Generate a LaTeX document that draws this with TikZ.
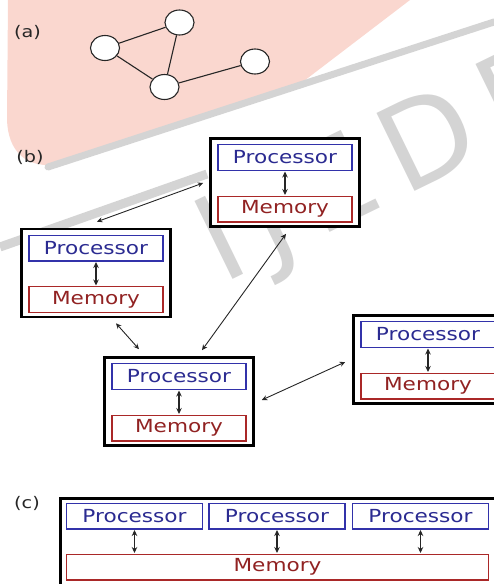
\documentclass[tikz,border=0pt]{standalone}
\usepackage{fontspec}
\setmainfont{DejaVu Sans}
\newfontfamily\dvs[FakeStretch=1.2]{DejaVu Sans}
\newfontfamily\wmfont[LetterSpace=16]{DejaVu Sans}
\usetikzlibrary{arrows.meta,shapes.geometric,calc}
\definecolor{procblue}{RGB}{50,50,170}
\definecolor{memred}{RGB}{170,40,40}
\definecolor{wmpink}{RGB}{250,215,207}
\definecolor{wmgray}{RGB}{212,212,212}
\tikzset{
  outerbox/.style={draw=black,line width=2.6pt,fill=white,minimum width=149pt,minimum height=88pt,inner sep=0pt},
  procbox/.style={draw=procblue,line width=1.2pt,fill=white,text=procblue!85!black,minimum width=134pt,minimum height=25.8pt,inner sep=0pt,font=\dvs\fontsize{18}{18}\selectfont},
  membox/.style={draw=memred,line width=1.2pt,fill=white,text=memred!85!black,minimum width=134pt,minimum height=25.8pt,inner sep=0pt,font=\dvs\fontsize{18}{18}\selectfont},
  dblarrow/.style={{Stealth[length=5.5pt,width=5pt]}-{Stealth[length=5.5pt,width=5pt]},line width=0.9pt,black!85},
  innerarrow/.style={{Stealth[length=6pt,width=5.5pt]}-{Stealth[length=6pt,width=5.5pt]},line width=1.2pt,black!85,shorten <=0.5pt,shorten >=0.5pt},
  vtx/.style={ellipse,draw=black!85,line width=1.1pt,fill=white,minimum width=29pt,minimum height=25pt,inner sep=0pt},
  gedge/.style={line width=1.1pt,black!85},
  lbl/.style={text=black!85,inner sep=0pt,font=\dvs\fontsize{16}{16}\selectfont},
}
\newcommand\pmunit[3]{%
  \node[outerbox] (#1) at (#2,#3) {};
  \node[procbox] (#1p) at ($(#1)+(0,-25)$) {Processor};
  \node[membox] (#1m) at ($(#1)+(0,26.5)$) {Memory};
  \draw[innerarrow] (#1p) -- (#1m);
}
\begin{document}
\begin{tikzpicture}[x=1pt,y=-1pt]
\useasboundingbox (0,0) rectangle (494,584);
\clip (0,0) rectangle (494,584);
% watermark
\fill[wmpink] (8,0) -- (410,0) -- (300,84) -- (60,164) .. controls (25,170) and (8,150) .. (7,120) -- cycle;
\draw[wmgray,line width=7pt,line cap=round] (48,167) -- (494,22);
\draw[wmgray,line width=9pt] (0,247) -- (207,174);
\node[text=wmgray,anchor=base west,rotate=26,inner sep=0pt,font=\wmfont\fontsize{119}{119}\selectfont] (wm) at (222,285) {IJEDR};
% (a)
\node[lbl] (la) at (27.5,32) {(a)};
\node[vtx] (v1) at (105,48) {};
\node[vtx] (v2) at (179.5,22.5) {};
\node[vtx] (v3) at (164.5,87) {};
\node[vtx] (v4) at (255,61.5) {};
\draw[gedge] (v1) -- (v2);
\draw[gedge] (v1) -- (v3);
\draw[gedge] (v2) -- (v3);
\draw[gedge] (v3) -- (v4);
% (b)
\node[lbl] (lb) at (30,157) {(b)};
\pmunit{T}{285}{182.5}
\pmunit{L}{96}{273}
\pmunit{C}{179}{401.5}
\pmunit{R}{428}{359.5}
\draw[dblarrow] ($(L.north)+(1,-6)$) -- ($(T.west)+(-6,0.5)$);
\draw[dblarrow] ($(T.south)+(1,6)$) -- ($(C.north)+(23,-6)$);
\draw[dblarrow] ($(L.south)+(20,5)$) -- ($(C.north)+(-40,-7)$);
\draw[dblarrow] ($(C.east)+(7,-1.5)$) -- ($(R.west)+(-7,2.5)$);
% (c)
\node[lbl] (lc) at (27,503) {(c)};
\node[draw=black,line width=2.6pt,fill=white,minimum width=460pt,minimum height=110pt,inner sep=0pt,anchor=north west] (cbox) at (59.3,497.3) {};
\node[procbox,minimum width=136pt] (cp1) at (134.5,516) {Processor};
\node[procbox,minimum width=136pt] (cp2) at (277,516) {Processor};
\node[procbox,minimum width=136pt] (cp3) at (420.5,516) {Processor};
\node[membox,minimum width=422pt] (cm) at (277.5,567) {Memory};
\draw[innerarrow] (cp1.south) -- (cp1.south |- cm.north);
\draw[innerarrow] (cp2.south) -- (cp2.south |- cm.north);
\draw[innerarrow] (cp3.south) -- (cp3.south |- cm.north);
\end{tikzpicture}
\end{document}
